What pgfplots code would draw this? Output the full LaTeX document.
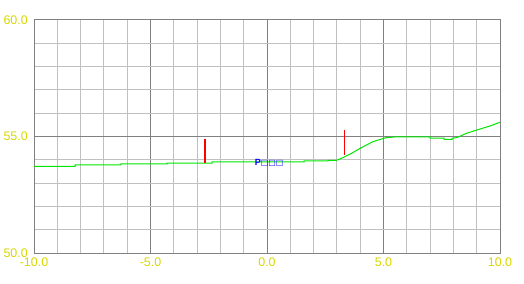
\documentclass[border=0pt]{standalone}
\usepackage{fontspec}
\setmainfont{Liberation Sans}
\newfontfamily\symfont{DejaVu Sans}
\usepackage{pgfplots}
\pgfplotsset{compat=1.18}
\definecolor{tickyellow}{RGB}{215,215,0}
\definecolor{majgrid}{RGB}{128,128,128}
\definecolor{mingrid}{RGB}{192,192,192}
\definecolor{lgreen}{RGB}{0,230,0}
\definecolor{pred}{RGB}{255,0,0}
\definecolor{pblue}{RGB}{0,0,255}
\begin{document}
\begin{tikzpicture}
\useasboundingbox (-34bp,-31bp) rectangle (490bp,253bp);
\begin{axis}[
  at={(0,0)}, anchor=south west,
  scale only axis, width=466bp, height=233bp,
  xmin=-10, xmax=10, ymin=50, ymax=60,
  xtick={-10,-5,0,5,10}, ytick={50,55,60},
  minor xtick={-9,-8,-7,-6,-4,-3,-2,-1,1,2,3,4,6,7,8,9},
  minor ytick={51,52,53,54,56,57,58,59},
  grid=both,
  major grid style={draw=majgrid, line width=1bp},
  minor grid style={draw=mingrid, line width=1bp},
  axis line style={draw=majgrid, line width=1bp},
  major tick length=0pt, minor tick length=0pt,
  /pgf/number format/assume math mode=true,
  /pgf/number format/.cd, fixed, fixed zerofill, precision=1, /pgfplots/.cd,
  ticklabel style={font=\fontsize{12.5}{13}\selectfont, text=tickyellow, inner sep=0pt},
  xticklabel style={anchor=north, yshift=-5bp},
  yticklabel style={anchor=east, xshift=-6bp},
  clip=false,
]
\addplot[draw=lgreen, line width=1bp] table {
x y
-10 53.72
-8.24 53.72
-8.24 53.78
-6.27 53.78
-6.27 53.82
-4.29 53.82
-4.29 53.86
-2.36 53.86
-2.36 53.91
1.59 53.91
1.59 53.95
2.62 53.95
2.62 53.97
2.96 53.97
3.30 54.11
3.65 54.29
3.99 54.49
4.55 54.78
5.11 54.95
5.49 54.98
7.00 54.98
7.00 54.93
7.60 54.93
7.60 54.88
7.94 54.88
7.94 54.93
8.14 54.95
8.57 55.14
9.14 55.32
9.57 55.45
10 55.61
};
\addplot[draw=pred, line width=1.5bp] coordinates {(-2.66,54.89) (-2.66,53.86)};
\addplot[draw=pred, line width=1.5bp] coordinates {(3.32,55.28) (3.32,54.20)};
\node[text=pblue, font=\fontsize{9}{9}\selectfont\bfseries, inner sep=0pt] at (axis cs:0.09,53.86) {P{\symfont\fontsize{8}{8}\selectfont□□□}};
\end{axis}
\end{tikzpicture}
\end{document}
